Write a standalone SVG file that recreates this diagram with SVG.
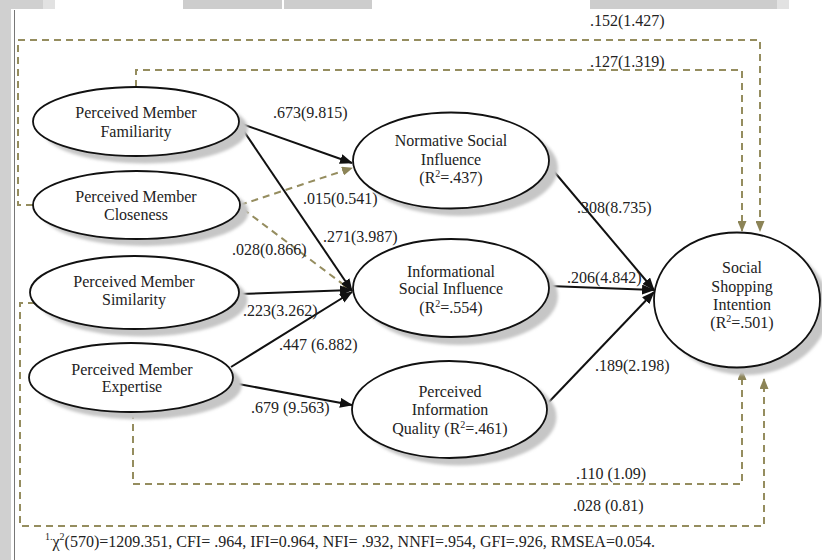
<svg xmlns="http://www.w3.org/2000/svg" width="822" height="560" viewBox="0 0 822 560">
<defs>
<style>
.node{fill:#fff;stroke:#111;stroke-width:1.8}
.shadow{fill:#c6c6c6;filter:url(#blur)}
.t{font-family:"Liberation Serif","Times New Roman",serif;font-size:16px;fill:#222;text-anchor:middle}
.lbl{font-family:"Liberation Serif","Times New Roman",serif;font-size:16px;fill:#222}
.solid{fill:none;stroke:#111;stroke-width:2;marker-end:url(#ab)}
.dash{fill:none;stroke:#958d5f;stroke-width:2;stroke-dasharray:7 5}
.dashA{fill:none;stroke:#958d5f;stroke-width:2;stroke-dasharray:7 5;marker-end:url(#ao)}
</style>
<filter id="blur" x="-10%" y="-10%" width="120%" height="120%"><feGaussianBlur stdDeviation="1.5"/></filter>
<marker id="ab" markerWidth="13" markerHeight="10" refX="12" refY="5" orient="auto" markerUnits="userSpaceOnUse"><path d="M0,0 L13,5 L0,10 z" fill="#111"/></marker>
<marker id="ao" markerWidth="11" markerHeight="9" refX="10" refY="4.5" orient="auto" markerUnits="userSpaceOnUse"><path d="M0,0 L11,4.5 L0,9 z" fill="#8c8457"/></marker>
</defs>
<rect width="822" height="560" fill="#fff"/>
<!-- page frame remnants -->
<rect x="0" y="0" width="11" height="560" fill="#d0d0d0"/>
<rect x="0" y="0" width="43" height="9" fill="#d0d0d0"/>
<rect x="43" y="0" width="12" height="9" fill="#e2e2e2"/>
<rect x="183" y="0" width="99" height="9" fill="#cdcdcd"/>
<rect x="284" y="0" width="88" height="9" fill="#cdcdcd"/>
<rect x="590" y="0" width="187" height="9" fill="#cdcdcd"/>
<rect x="777" y="0" width="12" height="9" fill="#e2e2e2"/>
<line x1="14.5" y1="10" x2="14.5" y2="560" stroke="#777" stroke-width="1"/>

<g id="connectors">
<!-- dashed loops -->
<polyline class="dashA" points="33,205 18,205 18,40 760,40 760,231"/>
<polyline class="dashA" points="136,87 136,70 742,70 742,231"/>
<polyline class="dashA" points="35,303 20,303 20,526 764,526 764,379"/>
<polyline class="dashA" points="133,412 133,484 742,484 742,370"/>
<!-- dashed direct -->
<line class="dashA" x1="240" y1="205" x2="352" y2="168"/>
<line class="dashA" x1="243" y1="209" x2="352" y2="291"/>
<!-- solid paths -->
<line class="solid" x1="239" y1="123" x2="352" y2="163"/>
<line class="solid" x1="239" y1="124" x2="352" y2="291"/>
<line class="solid" x1="239" y1="294" x2="352" y2="290"/>
<line class="solid" x1="231" y1="367" x2="352" y2="292"/>
<line class="solid" x1="233" y1="383" x2="352" y2="405"/>
<line class="solid" x1="546" y1="162" x2="654" y2="290"/>
<line class="solid" x1="549" y1="286" x2="654" y2="290"/>
<line class="solid" x1="547" y1="404" x2="654" y2="292"/>
</g>

<g id="labels">
<text class="lbl" x="590" y="26">.152(1.427)</text>
<text class="lbl" x="590" y="67">.127(1.319)</text>
<text class="lbl" x="273" y="118">.673(9.815)</text>
<text class="lbl" x="303" y="204">.015(0.541)</text>
<text class="lbl" x="323" y="242">.271(3.987)</text>
<text class="lbl" x="232" y="255">.028(0.866)</text>
<text class="lbl" x="243" y="316">.223(3.262)</text>
<text class="lbl" x="279" y="350">.447 (6.882)</text>
<text class="lbl" x="251" y="413">.679 (9.563)</text>
<text class="lbl" x="577" y="213">.308(8.735)</text>
<text class="lbl" x="567" y="283">.206(4.842)</text>
<text class="lbl" x="595" y="371">.189(2.198)</text>
<text class="lbl" x="576" y="479">.110 (1.09)</text>
<text class="lbl" x="573" y="511">.028 (0.81)</text>
</g>

<g id="familiarity">
<ellipse class="shadow" cx="145" cy="129" rx="103" ry="34.5"/>
<ellipse class="node" cx="136" cy="121.5" rx="103" ry="34.5"/>
<text class="t" x="136" y="118">Perceived Member</text>
<text class="t" x="136" y="137">Familiarity</text>
</g>
<g id="closeness">
<ellipse class="shadow" cx="145" cy="212" rx="103.5" ry="34"/>
<ellipse class="node" cx="136.5" cy="205" rx="103.5" ry="34"/>
<text class="t" x="136" y="202">Perceived Member</text>
<text class="t" x="136" y="220">Closeness</text>
</g>
<g id="similarity">
<ellipse class="shadow" cx="143" cy="300" rx="104.5" ry="36.5"/>
<ellipse class="node" cx="134.5" cy="292.5" rx="104.5" ry="36.5"/>
<text class="t" x="134" y="287">Perceived Member</text>
<text class="t" x="134" y="305">Similarity</text>
</g>
<g id="expertise">
<ellipse class="shadow" cx="140" cy="385" rx="102" ry="34.5"/>
<ellipse class="node" cx="131" cy="377.5" rx="102" ry="34.5"/>
<text class="t" x="132" y="375">Perceived Member</text>
<text class="t" x="132" y="392">Expertise</text>
</g>
<g id="normative">
<ellipse class="shadow" cx="460" cy="168" rx="98" ry="48"/>
<ellipse class="node" cx="451" cy="160.5" rx="98" ry="48"/>
<text class="t" x="451" y="146">Normative Social</text>
<text class="t" x="451" y="165">Influence</text>
<text class="t" x="451" y="183">(R<tspan font-size="10" dy="-6">2</tspan><tspan dy="6">=.437)</tspan></text>
</g>
<g id="informational">
<ellipse class="shadow" cx="460" cy="296" rx="98" ry="49"/>
<ellipse class="node" cx="451" cy="288" rx="98" ry="49"/>
<text class="t" x="451" y="277">Informational</text>
<text class="t" x="451" y="294">Social Influence</text>
<text class="t" x="451" y="313">(R<tspan font-size="10" dy="-6">2</tspan><tspan dy="6">=.554)</tspan></text>
</g>
<g id="quality">
<ellipse class="shadow" cx="459" cy="417" rx="97.5" ry="48.5"/>
<ellipse class="node" cx="449.5" cy="409.5" rx="97.5" ry="48.5"/>
<text class="t" x="450" y="397">Perceived</text>
<text class="t" x="450" y="415">Information</text>
<text class="t" x="450" y="434">Quality (R<tspan font-size="10" dy="-6">2</tspan><tspan dy="6">=.461)</tspan></text>
</g>
<g id="intention">
<ellipse class="shadow" cx="746" cy="308" rx="83" ry="67"/>
<ellipse class="node" cx="737" cy="300" rx="83" ry="67.5"/>
<text class="t" x="742" y="273">Social</text>
<text class="t" x="742" y="292">Shopping</text>
<text class="t" x="742" y="310">Intention</text>
<text class="t" x="742" y="328">(R<tspan font-size="10" dy="-6">2</tspan><tspan dy="6">=.501)</tspan></text>
</g>

<text class="lbl" x="45" y="547"><tspan font-size="10" dy="-7">1.</tspan><tspan dy="7">χ</tspan><tspan font-size="10" dy="-7">2</tspan><tspan dy="7">(570)=1209.351, CFI= .964, IFI=0.964, NFI= .932, NNFI=.954, GFI=.926, RMSEA=0.054.</tspan></text>
</svg>
